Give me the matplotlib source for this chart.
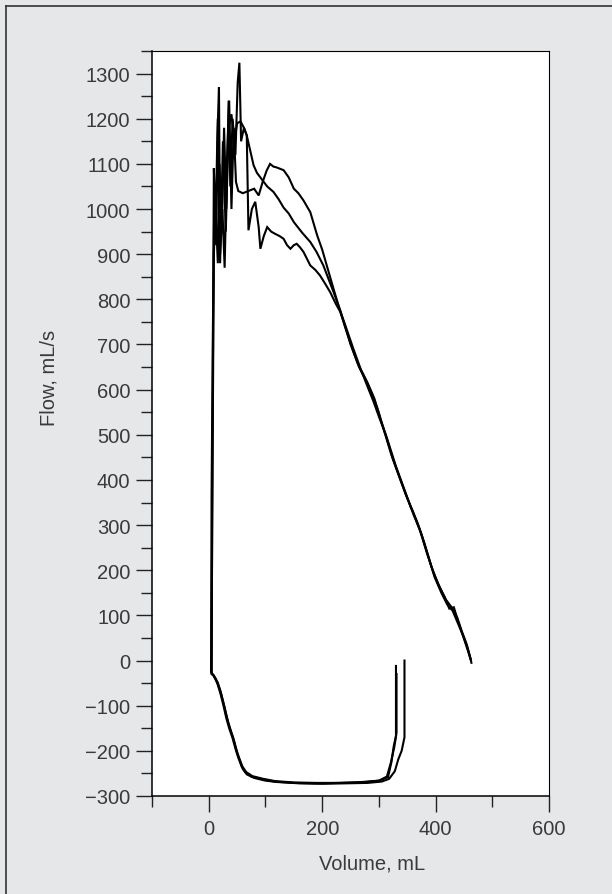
import matplotlib
matplotlib.use("Agg")
import matplotlib.pyplot as plt
from matplotlib.lines import Line2D
from matplotlib.ticker import MultipleLocator

# three flow-volume loops (volume mL, flow mL/s)
vol_a = [345, 345, 340, 334, 328, 318, 305, 280, 240, 200, 160, 120, 100, 80, 67, 60, 56, 50, 45, 40,
         35, 30, 25, 20, 12, 5,
         6, 8, 9, 12, 15, 18, 20, 24, 28, 32, 36, 40, 44, 48, 52, 60, 70, 80, 88, 95, 102, 108, 114,
         120, 132, 141, 150, 158, 167, 179, 191, 200, 208, 220, 232,
         240, 252, 262, 272, 282, 290, 300, 312, 325, 338, 350, 362, 375, 386, 398, 410, 420, 430,
         440, 450, 458, 462]
flow_a = [0, -170, -200, -219, -245, -262, -268, -271, -272, -273, -272, -269, -266, -260, -252, -240,
          -225, -205, -180, -160, -140, -115, -90, -65, -40, -28,
          300, 820, 1090, 960, 1150, 1270, 900, 1000, 870, 1100, 1240, 1000, 1180, 1060, 1040, 1035,
          1040, 1045, 1030, 1060, 1085, 1100, 1094, 1092, 1086, 1070, 1045, 1035, 1019, 993, 942,
          910, 875, 823, 772,
          740, 695, 660, 632, 600, 575, 540, 500, 445, 400, 360, 320, 280, 235, 185, 150, 125, 110,
          80, 50, 20, 2]

vol_b = [330, 330, 326, 322, 316, 300, 270, 230, 190, 150, 115, 95, 75, 65, 58, 52, 47, 42, 36, 31,
         26, 21, 15, 8, 4,
         5, 7, 10, 13, 16, 20, 25, 30, 35, 40, 45, 50, 56, 62, 67, 73, 79, 85, 91, 103, 114, 123,
         132, 141, 150, 165, 179, 190, 202, 220, 232,
         238, 250, 265, 278, 288, 298, 310, 322, 335, 348, 360, 372, 384, 396, 408, 418, 428, 438,
         446, 455, 460, 463]
flow_b = [-12, -167, -190, -225, -258, -266, -270, -271, -272, -271, -268, -263, -257, -248, -235,
          -215, -195, -172, -150, -128, -100, -75, -50, -32, -25,
          370, 700, 1050, 920, 1200, 880, 1150, 950, 1180, 1210, 1150, 1190, 1194, 1180, 1163, 1130,
          1097, 1080, 1070, 1050, 1038, 1022, 1003, 990, 971, 947, 927, 905, 875, 816, 775,
          750, 700, 650, 618, 590, 556, 505, 455, 410, 365, 330, 290, 240, 195, 160, 135, 118, 95,
          65, 35, 10, -5]

vol_c = [331, 331, 327, 321, 314, 300, 270, 230, 190, 150, 117, 96, 77, 66, 59, 53, 48, 43, 37, 32,
         27, 22, 16, 9, 5,
         6, 9, 12, 16, 19, 23, 27, 31, 35, 38, 42, 47, 51, 54, 57, 62, 67, 70, 76, 82, 88, 91, 97,
         103, 110, 117, 125, 132, 138, 144, 150, 155, 161, 167, 173, 179, 188, 196, 205, 214, 224,
         232,
         240, 255, 268, 280, 292, 304, 316, 330, 343, 356, 368, 380, 392, 404, 416, 424, 432, 440,
         448, 456, 461]
flow_c = [-30, -160, -192, -226, -257, -266, -269, -271, -271, -270, -267, -262, -256, -247, -234,
          -214, -194, -171, -149, -127, -99, -74, -49, -33, -30,
          300, 900, 1000, 880, 1100, 950, 1180, 1000, 1240, 1050, 1200, 1120, 1280, 1324, 1150, 1180,
          1163, 953, 1000, 1016, 960, 912, 940, 960, 950, 945, 940, 934, 920, 912, 920, 923, 915,
          905, 890, 875, 865, 853, 835, 816, 790, 772,
          745, 690, 645, 615, 580, 530, 485, 430, 385, 340, 305, 260, 210, 170, 140, 115, 118, 85,
          55, 25, 5]

x_ticks = [0, 200, 400, 600]
y_ticks = list(range(-300, 1301, 100))

fig = plt.figure(figsize=(6.12, 8.95), dpi=100, facecolor="#e6e7e8")
ax = fig.add_axes([0.2484, 0.1095, 0.6489, 0.8324])
ax.set_facecolor("white")

for v, f in [(vol_a, flow_a), (vol_b, flow_b), (vol_c, flow_c)]:
    ax.plot(v, f, color="black", lw=1.5, solid_joinstyle="miter")

ax.set_xlim(-100, 600)
ax.set_ylim(-300, 1350)
ax.set_xticks(x_ticks)
ax.set_yticks(y_ticks)
ax.xaxis.set_minor_locator(MultipleLocator(100))
ax.yaxis.set_minor_locator(MultipleLocator(50))

txt = "#3a3a3a"
ax.tick_params(which="major", length=11.5, width=1, color="#222222", labelsize=14.5,
               labelcolor=txt, pad=4)
ax.tick_params(which="minor", length=8, width=1, color="#222222")
ax.tick_params(axis="x", which="major", pad=5)
ax.set_yticklabels(["\u2212" + str(-t) if t < 0 else str(t) for t in y_ticks],
                   family="Liberation Sans")
ax.set_xticklabels([str(t) for t in x_ticks], family="Liberation Sans")
for side in ["top", "right"]:
    ax.spines[side].set_linewidth(0.8)
for side in ["left", "bottom"]:
    ax.spines[side].set_linewidth(1.1)

ax.set_xlabel("Volume, mL", fontsize=14.5, color=txt, family="Liberation Sans")
ax.set_ylabel("Flow, mL/s", fontsize=14.5, color=txt, family="Liberation Sans")
ax.xaxis.set_label_coords(0.554, -0.0775)
ax.yaxis.set_label_coords(-0.236, 0.5624)
ax.xaxis.label.set_va("top")
ax.yaxis.label.set_va("bottom")

# outer frame (only top and left edges fall inside the image)
fig.add_artist(Line2D([6 / 612, 6 / 612], [0, 1 - 7 / 895], color="#333333", lw=1.2))
fig.add_artist(Line2D([6 / 612, 1], [1 - 7 / 895, 1 - 7 / 895], color="#333333", lw=1.2))

fig.savefig("out.png", dpi=100, facecolor=fig.get_facecolor())
